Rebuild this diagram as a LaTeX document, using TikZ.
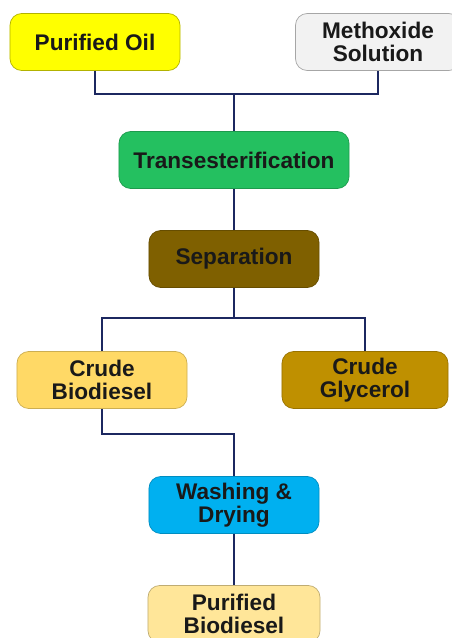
\documentclass[tikz,border=0pt]{standalone}
\usepackage{fontspec}
\setmainfont{Liberation Sans}
\usetikzlibrary{positioning,calc}

\definecolor{oilyellow}{RGB}{255,255,0}
\definecolor{methgray}{RGB}{242,242,242}
\definecolor{transgreen}{RGB}{36,192,96}
\definecolor{sepbrown}{RGB}{127,96,0}
\definecolor{crudebio}{RGB}{255,217,102}
\definecolor{crudegly}{RGB}{191,144,0}
\definecolor{washblue}{RGB}{0,176,240}
\definecolor{purebio}{RGB}{255,230,153}
\definecolor{linknavy}{RGB}{28,40,96}

\begin{document}
\begin{tikzpicture}[
    x=0.03cm, y=-0.03cm,
    font=\fontsize{19.3}{19.8}\selectfont\bfseries,
    stage/.style={rounded corners=10pt, minimum height=1.71cm,
                  align=center, inner sep=2pt, line width=0.6pt, text=black!90},
    link/.style={draw=linknavy, line width=2.4pt},
  ]
    \clip (0,0) rectangle (452,638);

    \node[stage, fill=oilyellow, draw=oilyellow!70!black,
          minimum width=5.1cm]  (oil)   at (95,42)    {Purified Oil};
    \node[stage, fill=methgray, draw=gray!70,
          minimum width=4.95cm] (meth)  at (378,42)   {Methoxide\\Solution};
    \node[stage, fill=transgreen, draw=transgreen!80!black,
          minimum width=6.9cm]  (trans) at (234,160)  {Transesterification};
    \node[stage, fill=sepbrown, draw=sepbrown!80!black,
          minimum width=5.1cm]  (sep)   at (234,259)  {Separation};
    \node[stage, fill=crudebio, draw=crudebio!80!black,
          minimum width=5.1cm]  (cbio)  at (102,380)  {Crude\\Biodiesel};
    \node[stage, fill=crudegly, draw=crudegly!80!black,
          minimum width=4.98cm] (cgly)  at (365,380)  {Crude\\Glycerol};
    \node[stage, fill=washblue, draw=washblue!80!black,
          minimum width=5.1cm]  (wash)  at (234,505)  {Washing \&\\Drying};
    \node[stage, fill=purebio, draw=purebio!75!black,
          minimum width=5.16cm] (pbio)  at (234,614)  {Purified\\Biodiesel};

    % junction points of the connectors
    \coordinate (mix)   at (234,94);
    \coordinate (split) at (234,318);
    \coordinate (bend)  at (234,434);

    \draw[link] (oil.south) |- (mix) -| (meth.south);
    \draw[link] (mix) -- (trans.north);
    \draw[link] (trans) -- (sep);
    \draw[link] (sep.south) -- (split);
    \draw[link] (cbio.north) |- (split) -| (cgly.north);
    \draw[link] (cbio.south) |- (bend) -- (wash.north);
    \draw[link] (wash) -- (pbio);
  \end{tikzpicture}
\end{document}
